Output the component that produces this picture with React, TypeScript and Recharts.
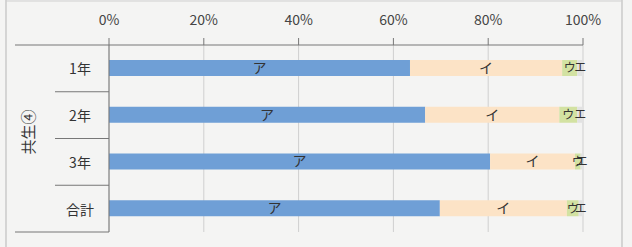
import React from 'react';
import { BarChart, Bar, XAxis, YAxis, CartesianGrid, LabelList, Customized } from 'recharts';

const categories = ['1年', '2年', '3年', '合計'];
const seriesA = [63.5, 66.7, 80.4, 69.8];
const seriesI = [32.1, 28.3, 17.9, 26.8];
const seriesU = [3.2, 3.8, 1.2, 2.5];
const seriesE = [1.2, 1.2, 0.5, 0.9];
const xTicks = [0, 20, 40, 60, 80, 100];
const groupLabel = '共生④';

const data = categories.map((name, i) => ({
  name,
  a: seriesA[i],
  i: seriesI[i],
  u: seriesU[i],
  e: seriesE[i],
}));

const FONT = '"Noto Sans CJK JP", "Noto Sans", sans-serif';
const PLOT_TOP = 45;
const PLOT_BOTTOM = 232;
const PLOT_LEFT = 109;
const BAND = (PLOT_BOTTOM - PLOT_TOP) / categories.length;

const CategoryTick = (props: any) => {
  const { y, payload, index } = props;
  const last = index === categories.length - 1;
  return (
    <g>
      <text x={80} y={y} textAnchor="middle" dominantBaseline="central" fontSize={14} fill="#333" fontFamily={FONT}>
        {payload.value}
      </text>
      <line x1={last ? 15 : 55} x2={PLOT_LEFT} y1={y + BAND / 2} y2={y + BAND / 2} stroke="#777" strokeWidth={1} />
    </g>
  );
};

const Frame = () => (
  <g>
    <line x1={6} x2={6} y1={0} y2={247} stroke="#b5b5b5" />
    <line x1={622} x2={622} y1={0} y2={247} stroke="#b5b5b5" />
    <line x1={6} x2={622} y1={1} y2={1} stroke="#cfcfcf" />
    <line x1={15} x2={PLOT_LEFT} y1={PLOT_TOP} y2={PLOT_TOP} stroke="#777" />
    <text
      x={27}
      y={132}
      transform="rotate(-90 27 132)"
      textAnchor="middle"
      dominantBaseline="central"
      fontSize={15}
      fill="#333"
      fontFamily={FONT}
    >
      {groupLabel}
    </text>
  </g>
);

const labelStyle = { fontSize: 14, fill: '#333', fontFamily: FONT };
const smallLabelStyle = { fontSize: 12, fill: '#333', fontFamily: FONT };

export default function App() {
  return (
    <div style={{ position: 'absolute', left: 0, top: 0, width: 632, height: 247, background: '#f4f4f3' }}>
      <BarChart
        width={632}
        height={247}
        data={data}
        layout="vertical"
        margin={{ top: 0, right: 49, bottom: 15, left: 0 }}
        barSize={16}
      >
        <CartesianGrid horizontal={false} stroke="#cfcfcf" />
        <XAxis
          type="number"
          orientation="top"
          domain={[0, 100]}
          ticks={xTicks}
          height={45}
          tickFormatter={(v: number) => `${v}%`}
          tick={{ fontSize: 14, fill: '#444', fontFamily: FONT }}
          tickSize={7}
          tickMargin={13}
          stroke="#777"
          allowDataOverflow
        />
        <YAxis
          type="category"
          dataKey="name"
          width={PLOT_LEFT}
          tick={<CategoryTick />}
          tickLine={false}
          stroke="#777"
          interval={0}
        />
        <Bar dataKey="a" stackId="s" fill="#6f9fd6" isAnimationActive={false}>
          <LabelList dataKey="a" position="center" formatter={() => 'ア'} style={labelStyle} />
        </Bar>
        <Bar dataKey="i" stackId="s" fill="#fce3c6" isAnimationActive={false}>
          <LabelList dataKey="i" position="center" formatter={() => 'イ'} style={labelStyle} />
        </Bar>
        <Bar dataKey="u" stackId="s" fill="#d3e2a2" isAnimationActive={false}>
          <LabelList dataKey="u" position="center" formatter={() => 'ウ'} style={smallLabelStyle} />
        </Bar>
        <Bar dataKey="e" stackId="s" fill="#e2e2e2" isAnimationActive={false}>
          <LabelList dataKey="e" position="center" formatter={() => 'エ'} style={smallLabelStyle} />
        </Bar>
        <Customized component={Frame} />
      </BarChart>
    </div>
  );
}
